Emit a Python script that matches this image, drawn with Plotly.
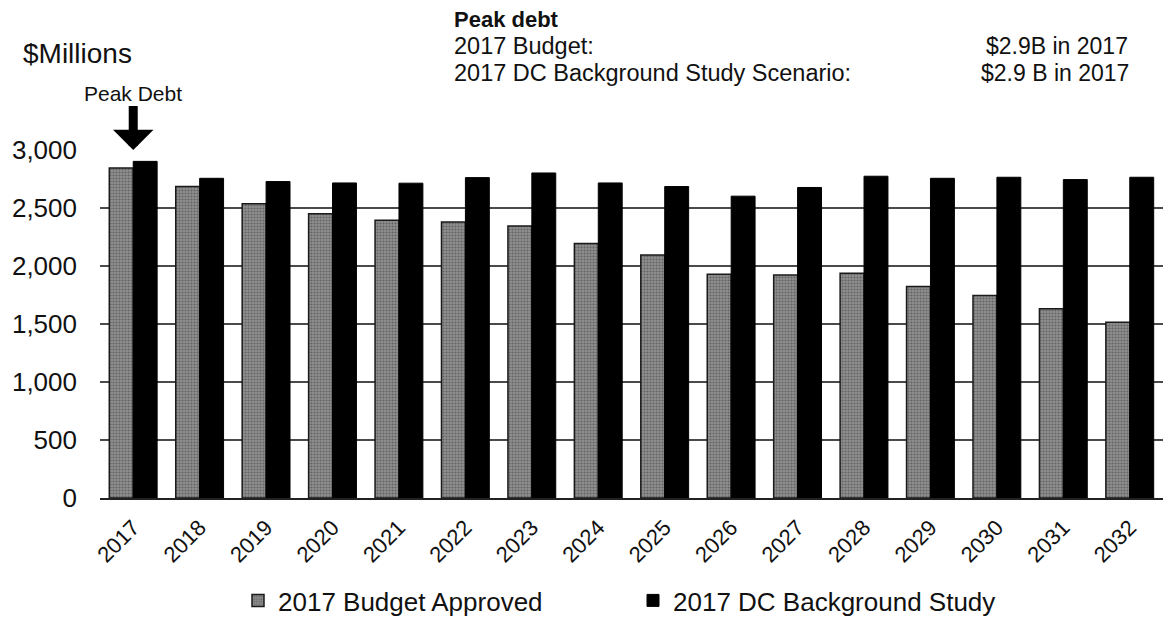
import plotly.graph_objects as go

years = [str(y) for y in range(2017, 2033)]
budget_approved = [2845, 2685, 2537, 2451, 2394, 2380, 2345, 2194,
                   2094, 1928, 1922, 1937, 1823, 1745, 1631, 1515]
dc_background = [2902, 2756, 2728, 2716, 2714, 2762, 2802, 2716,
                 2685, 2602, 2677, 2774, 2756, 2765, 2745, 2765]
y_ticks = [0, 500, 1000, 1500, 2000, 2500, 3000]
peak_year = "2017"

FONT = "Liberation Sans, Arial, sans-serif"

fig = go.Figure()
fig.add_trace(go.Bar(
    x=years, y=budget_approved, name="2017 Budget Approved",
    marker=dict(
        color="#808080",
        line=dict(color="#1a1a1a", width=1.5),
        pattern=dict(shape=".", fgcolor="#363636", bgcolor="#909090",
                     size=3, solidity=0.4),
    ),
))
fig.add_trace(go.Bar(
    x=years, y=dc_background, name="2017 DC Background Study",
    marker=dict(color="#000000", line=dict(color="#000000", width=1)),
))

W, H = 1163, 624
L, R, T, B = 100, 0, 150, 122
pw, ph = W - L - R, H - T - B


def px(xp):
    return (xp - L) / pw


def py(yp):
    return (H - B - yp) / ph


annotations = [
    dict(text="$Millions", x=px(21), y=py(52), xanchor="left", yanchor="middle",
         font=dict(size=28)),
    dict(text="<b>Peak debt</b>", x=px(452), y=py(18), xanchor="left",
         yanchor="middle", font=dict(size=22)),
    dict(text="2017 Budget:", x=px(452), y=py(45), xanchor="left",
         yanchor="middle", font=dict(size=23.5)),
    dict(text="2017 DC Background Study Scenario:", x=px(452), y=py(72),
         xanchor="left", yanchor="middle", font=dict(size=23.5)),
    dict(text="$2.9B in 2017", x=px(984), y=py(45), xanchor="left",
         yanchor="middle", font=dict(size=23)),
    dict(text="$2.9 B in 2017", x=px(979), y=py(72), xanchor="left",
         yanchor="middle", font=dict(size=23)),
]
for a in annotations:
    a.update(xref="paper", yref="paper", showarrow=False)

# Peak-debt marker pointing down at the peak year (category index)
annotations.append(dict(
    text="Peak Debt", x=years.index(peak_year), y=3000, xref="x", yref="y",
    showarrow=True, ax=0, ay=-57, arrowhead=1, arrowwidth=9,
    arrowsize=0.75, arrowcolor="#000000", font=dict(size=21),
))

fig.update_layout(
    width=W, height=H,
    margin=dict(l=L, r=R, t=T, b=B, pad=0),
    paper_bgcolor="white", plot_bgcolor="white",
    font=dict(family=FONT, color="#111111"),
    barmode="group", bargap=0.28, bargroupgap=0,
    annotations=annotations,
    legend=dict(
        orientation="h", x=px(238), xanchor="left", y=py(606),
        yanchor="middle", font=dict(size=26),
        entrywidth=350, entrywidthmode="pixels", itemwidth=30,
        traceorder="normal",
    ),
    xaxis=dict(
        type="category", range=[-0.5, 15.5], tickangle=-45,
        tickfont=dict(size=22), showgrid=False, showline=True,
        linecolor="#222222", linewidth=2, ticks="", fixedrange=True,
        ticklabelstandoff=6,
    ),
    yaxis=dict(
        range=[0, 3000], tickvals=y_ticks,
        ticktext=[f"{v:,}" for v in y_ticks], tickfont=dict(size=26),
        showgrid=True, gridcolor="#4a4a4a", gridwidth=1.6,
        zeroline=False, showline=False, ticks="", ticklabelstandoff=22,
    ),
)

fig.write_html("out.html")
